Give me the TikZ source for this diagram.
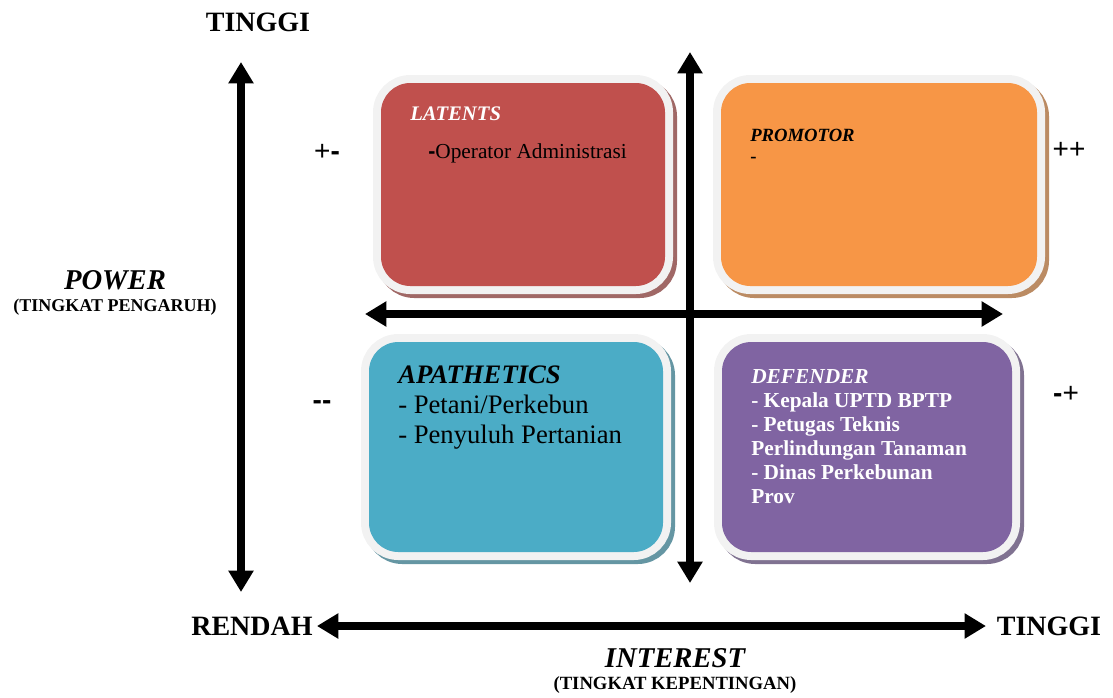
\documentclass[tikz,border=0pt]{standalone}
\usepackage{fontspec}
\setmainfont{Liberation Serif}
\newfontfamily\arial{Liberation Sans}
\usetikzlibrary{arrows.meta}
\definecolor{merah}{HTML}{C0504D}
\definecolor{oranye}{HTML}{F79646}
\definecolor{biru}{HTML}{4BACC6}
\definecolor{ungu}{HTML}{8064A2}
\definecolor{bingkai}{HTML}{F2F2F2}
\tikzset{
  kotak/.style={rounded corners=22pt,
    preaction={draw=#1!50!gray, line width=12pt, transform canvas={xshift=3pt,yshift=-3pt}},
    preaction={draw=bingkai, line width=12pt},
    fill=#1},
  panah/.style={line width=5.5pt, {Triangle[width=18pt,length=16pt]}-{Triangle[width=18pt,length=16pt]}},
  judul/.style={font=\fontsize{21}{25}\selectfont\bfseries, inner sep=0},
  tanda/.style={font=\arial\fontsize{21}{24}\selectfont, inner sep=0},
  isi/.style={anchor=north west, align=left, inner sep=0}
}
\begin{document}
\begin{tikzpicture}[x=0.75pt,y=-0.75pt]
\useasboundingbox (0,0) rectangle (1113,697);
% kuadran
\path[kotak=merah] (381,83) rectangle (665,286);
\path[kotak=oranye] (721,83) rectangle (1037,286);
\path[kotak=biru] (369,342) rectangle (663,552);
\path[kotak=ungu] (722,342) rectangle (1012,552);

\node[isi, text=white, font=\fontsize{15.5}{18}\selectfont\bfseries\itshape] (latents) at (410,107) {LATENTS};
\node[isi, font=\fontsize{16}{19}\selectfont] (operator) at (428,143) {{\arial\bfseries -}Operator Administrasi};
\node[isi, font=\fontsize{14}{16}\selectfont\bfseries] (promotor) at (750,129) {\itshape PROMOTOR\\-};
\node[isi, font=\fontsize{20}{22.5}\selectfont] (apathetics) at (398,366) {\bfseries\itshape APATHETICS\\- Petani/Perkebun\\- Penyuluh Pertanian};
\node[isi, text=white, font=\fontsize{16}{18}\selectfont\bfseries] (defender) at (751,369) {\itshape DEFENDER\\- Kepala UPTD BPTP\\- Petugas Teknis\\Perlindungan Tanaman\\- Dinas Perkebunan\\Prov};

% sumbu
\node[judul] (tinggiA) at (258,22) {TINGGI};
\node[judul] (rendah) at (252,626) {RENDAH};
\node[judul] (tinggiB) at (1049,626) {TINGGI};
\node[judul, font=\fontsize{21.5}{25}\selectfont\bfseries\itshape] (power) at (115,280) {POWER};
\node[judul, font=\fontsize{13.5}{16}\selectfont\bfseries] (pengaruh) at (115,307) {(TINGKAT PENGARUH)};
\node[judul, font=\fontsize{21.5}{25}\selectfont\bfseries\itshape] (interest) at (675,658) {INTEREST};
\node[judul, font=\fontsize{14}{16}\selectfont\bfseries] (kepentingan) at (675,685) {(TINGKAT KEPENTINGAN)};

\coordinate (kiriatas) at (241,62);
\coordinate (kiribawah) at (241,592);
\coordinate (tengahatas) at (690,52);
\coordinate (tengahbawah) at (690,583);
\coordinate (tengahkiri) at (365,314);
\coordinate (tengahkanan) at (1003,314);
\draw[panah] (kiriatas) -- (kiribawah);
\draw[panah] (tengahatas) -- (tengahbawah);
\draw[panah] (tengahkiri) -- (tengahkanan);
\draw[panah] ([xshift=3pt]rendah.east) -- ([xshift=-8pt]tinggiB.west);

\node[tanda] (pm) at (327,152) {+{\bfseries -}};
\node[tanda] (mm) at (322,405) {\bfseries --};
\node[tanda] (pp) at (1069,150) {++};
\node[tanda] (mp) at (1066,394) {{\bfseries -}+};
\end{tikzpicture}
\end{document}
